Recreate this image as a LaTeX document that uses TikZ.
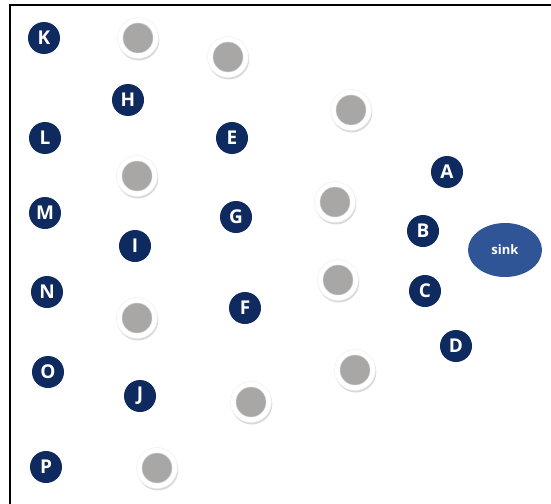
\documentclass[tikz,border=0pt]{standalone}
\usepackage{fontspec}
\setsansfont{Open Sans}
\usetikzlibrary{shadows,shapes.geometric}
\definecolor{navy}{HTML}{0F2A5E}
\definecolor{sinkblue}{HTML}{2F5597}
\definecolor{relaygray}{HTML}{A9A6A6}
\tikzset{line width=.8pt,
  every node/.style={font=\sffamily\bfseries},
  sensor/.style={circle,fill=navy,text=white,inner sep=0pt,minimum size=32pt,font=\sffamily\bfseries\fontsize{19}{19}\selectfont},
  relay/.style={circle,fill=white,draw=black!8,line width=.4pt,minimum size=41pt,inner sep=0pt,
    drop shadow={opacity=.3,shadow xshift=.8pt,shadow yshift=-2pt},
    path picture={\fill[relaygray,draw=black!18,line width=.5pt] (path picture bounding box.center) circle (15pt);}},
  sinknode/.style={ellipse,fill=sinkblue,text=white,minimum width=74pt,minimum height=54pt,inner sep=0pt,font=\sffamily\bfseries\fontsize{13}{13}\selectfont}}

\begin{document}
\begin{tikzpicture}[x=1pt,y=-1pt]
\useasboundingbox (0,0) rectangle (551,503);
\draw[line width=2pt,line cap=rect] (10,503)--(10,5)--(551,5);
% relay nodes
\foreach \n/\x/\y in {r1/138/38,r2/228/57,r3/351/110,r4/137/176,r5/335/202,r6/338/280,r7/137/318,r8/355/370,r9/251/402,r10/157/468}
  {\node[relay] (\n) at (\x,\y) {};}
% sensor nodes
\foreach \n/\x/\y in {K/44/38,H/128/100,L/45/138,E/232/138,A/447/172,M/45/213,G/236/217,B/423/231,I/135/246,N/47/292,C/425/291,F/245/308,D/456/346,O/48/372,J/140/396,P/46/467}
  {\node[sensor] (\n) at (\x,\y) {\n};}
\node[sinknode] (sink) at (505,250) {sink};
\end{tikzpicture}
\end{document}
